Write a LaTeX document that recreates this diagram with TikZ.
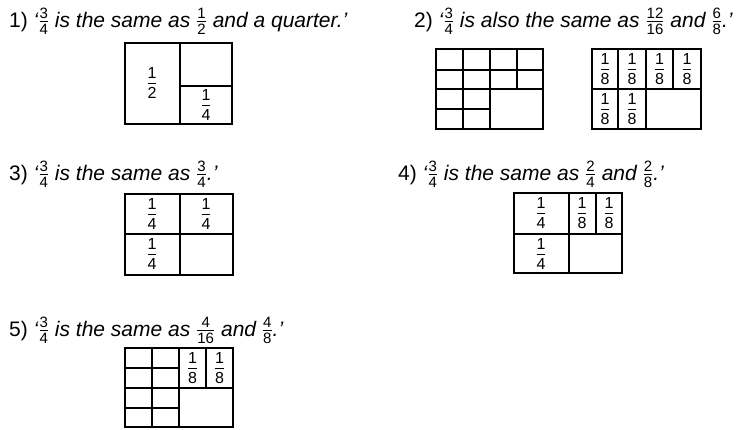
\documentclass[tikz,border=0pt]{standalone}
\usepackage{amsmath}
\usepackage{fontspec}
\setmainfont{Liberation Sans}

\newcommand{\tfr}[2]{$\genfrac{}{}{0.9pt}{1}{\text{\upshape\fontsize{15}{15}\selectfont#1}}{\text{\upshape\fontsize{15}{15}\selectfont#2}}$}
\newcommand{\bfr}[2]{$\genfrac{}{}{1.2pt}{0}{\text{\upshape\fontsize{16}{16}\selectfont#1}}{\text{\upshape\fontsize{16}{16}\selectfont#2}}$}

\begin{document}
\begin{tikzpicture}[x=1pt, y=-1pt,
  title/.style={anchor=base west, inner sep=0pt, font=\fontsize{21}{24}\selectfont},
  gridline/.style={line width=1.6pt},
  lab/.style={inner sep=0pt, font=\fontsize{13}{15}\selectfont}]

  \useasboundingbox (0,0) rectangle (738,429);

  % 1) a half and a quarter
  \node[title] (t1) at (9,27) {1)\ \itshape ‘\tfr{3}{4} is the same as \tfr{1}{2} and a quarter.’};
  \draw[gridline] (125,43) rectangle (232,124);
  \draw[gridline] (180,43) -- (180,124) (180,86) -- (232,86);
  \node[lab] (h1) at (152,83) {\bfr{1}{2}};
  \node[lab] (q1) at (206,105) {\bfr{1}{4}};

  % 2) sixteenths and eighths
  \node[title] (t2) at (414,27) {2)\ \itshape ‘\tfr{3}{4} is also the same as \tfr{12}{16} and \tfr{6}{8}.’};
  \draw[gridline] (436,49) rectangle (543,129);
  \draw[gridline] (463,49) -- (463,129) (490,49) -- (490,129) (517,49) -- (517,89);
  \draw[gridline] (436,70) -- (543,70) (436,89) -- (543,89) (436,109) -- (490,109);

  \draw[gridline] (592,49) rectangle (701,129);
  \draw[gridline] (592,89) -- (701,89);
  \draw[gridline] (618,49) -- (618,129) (646,49) -- (646,129) (673,49) -- (673,89);
  \foreach \x [count=\i] in {605,632,659.5,687}
    \node[lab] (e\i) at (\x,69) {\bfr{1}{8}};
  \node[lab] (e5) at (605,109) {\bfr{1}{8}};
  \node[lab] (e6) at (632,109) {\bfr{1}{8}};

  % 3) three quarters
  \node[title] (t3) at (9,180) {3)\ \itshape ‘\tfr{3}{4} is the same as \tfr{3}{4}.’};
  \draw[gridline] (125,194) rectangle (233,275);
  \draw[gridline] (180,194) -- (180,275) (125,234) -- (233,234);
  \node[lab] (q3a) at (152,214) {\bfr{1}{4}};
  \node[lab] (q3b) at (206,214) {\bfr{1}{4}};
  \node[lab] (q3c) at (152,254) {\bfr{1}{4}};

  % 4) quarters and eighths
  \node[title] (t4) at (398,180) {4)\ \itshape ‘\tfr{3}{4} is the same as \tfr{2}{4} and \tfr{2}{8}.’};
  \draw[gridline] (514,193) rectangle (622,273);
  \draw[gridline] (569,193) -- (569,273) (514,234) -- (622,234) (596,193) -- (596,234);
  \node[lab] (q4a) at (541,213) {\bfr{1}{4}};
  \node[lab] (e4a) at (582,213) {\bfr{1}{8}};
  \node[lab] (e4b) at (609,213) {\bfr{1}{8}};
  \node[lab] (q4b) at (541,254) {\bfr{1}{4}};

  % 5) sixteenths and eighths
  \node[title] (t5) at (9,336) {5)\ \itshape ‘\tfr{3}{4} is the same as \tfr{4}{16} and \tfr{4}{8}.’};
  \draw[gridline] (125,348) rectangle (233,427);
  \draw[gridline] (152,348) -- (152,427) (179,348) -- (179,427) (206,348) -- (206,388);
  \draw[gridline] (125,368) -- (179,368) (125,388) -- (233,388) (125,408) -- (179,408);
  \node[lab] (e5a) at (192.5,368) {\bfr{1}{8}};
  \node[lab] (e5b) at (219.5,368) {\bfr{1}{8}};
\end{tikzpicture}
\end{document}
